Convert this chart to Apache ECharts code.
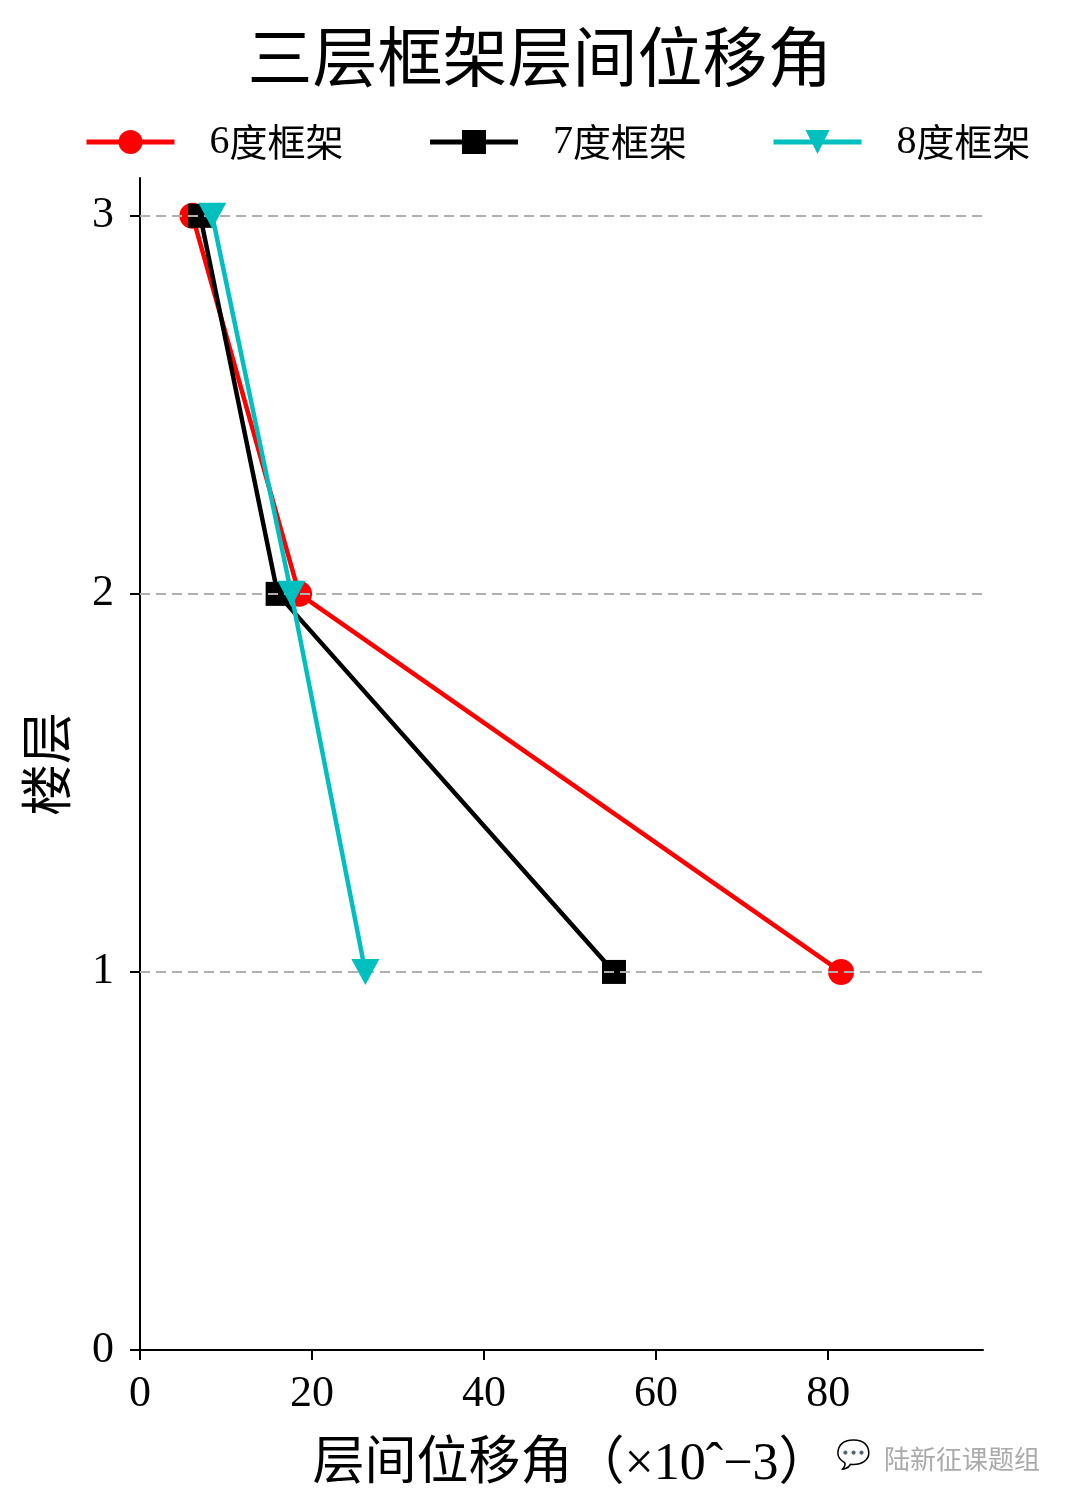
<!DOCTYPE html>
<html><head><meta charset="utf-8">
<script src="https://cdn.jsdelivr.net/npm/echarts@6/dist/echarts.min.js"></script>
<style>html,body{margin:0;padding:0;background:#fff}#c{width:1080px;height:1509px}</style>
</head><body><div id="c"></div>
<script>
const floors = [1, 2, 3];
const drift6 = [81.5, 18.5, 6.1];
const drift7 = [55.1, 16.0, 7.0];
const drift8 = [26.2, 17.6, 8.4];
const seriesNames = ['6度框架', '7度框架', '8度框架'];
const xTicks = [0, 20, 40, 60, 80];
const yTicks = [0, 1, 2, 3];
const FONT = "Liberation Serif, Noto Sans CJK SC, serif";
const CJK = "Noto Sans CJK SC, sans-serif";
const chart = echarts.init(document.getElementById('c'));
function pts(arr){ return arr.map((v,i)=>[v, floors[i]]); }
const tri = 'path://M0,0 L10,0 L5,9 Z';
const colors = ['#ff0000', '#000000', '#00bfbf'];
chart.setOption({
  animation:false,
  backgroundColor:'#fff',
  title:{text:'三层框架层间位移角', left:'center', top:19,
    textStyle:{fontFamily:CJK, fontSize:65, fontWeight:'normal', color:'#000'}},
  legend:{top:122, left:84, padding:0, itemWidth:88, itemHeight:30, itemGap:84,
    lineStyle:{width:5},
    formatter:function(n){ return '{d|' + n.charAt(0) + '}{c|' + n.slice(1) + '}'; },
    textStyle:{fontSize:38, color:'#000',
      rich:{d:{fontFamily:'Liberation Serif', fontSize:40, color:'#000', padding:[0,0,0,30]},
            c:{fontFamily:CJK, fontSize:38, color:'#000'}}},
    data:seriesNames},
  grid:{left:140, right:97, top:178, bottom:159, containLabel:false, outerBoundsMode:'none'},
  xAxis:{type:'value', min:0, max:98,
    name:'层间位移角（×10ˆ−3）', nameLocation:'middle', nameGap:89,
    nameTextStyle:{fontFamily:FONT, fontSize:52, color:'#000', padding:[0,0,0,20]},
    axisLine:{show:true, onZero:false, lineStyle:{color:'#000', width:2}},
    axisTick:{show:true, length:10, inside:false, customValues:xTicks, lineStyle:{color:'#000', width:2}},
    axisLabel:{customValues:xTicks, fontFamily:FONT, fontSize:44, color:'#000', margin:22},
    splitLine:{show:false}},
  yAxis:{type:'value', min:0, max:3.1,
    name:'楼层', nameLocation:'middle', nameGap:62, nameRotate:90,
    nameTextStyle:{fontFamily:FONT, fontSize:52, color:'#000'},
    axisLine:{show:true, onZero:false, lineStyle:{color:'#000', width:2}},
    axisTick:{show:true, length:10, customValues:yTicks, lineStyle:{color:'#000', width:2}},
    axisLabel:{customValues:yTicks, fontFamily:FONT, fontSize:44, color:'#000', margin:26},
    splitLine:{show:false}},
  series:[
    {name:seriesNames[0], type:'line', data:pts(drift6), symbol:'circle', symbolSize:26,
     lineStyle:{color:colors[0], width:4.5}, itemStyle:{color:colors[0]}, z:3,
     markLine:{silent:true, symbol:'none', label:{show:false},
       lineStyle:{color:'#b0b0b0', type:[10,6], width:2},
       data:floors.map(f=>({yAxis:f}))}},
    {name:seriesNames[1], type:'line', data:pts(drift7), symbol:'rect', symbolSize:24,
     lineStyle:{color:colors[1], width:4.5}, itemStyle:{color:colors[1]}, z:4},
    {name:seriesNames[2], type:'line', data:pts(drift8), symbol:tri, symbolSize:[28,26],
     lineStyle:{color:colors[2], width:4.5}, itemStyle:{color:colors[2]}, z:5}
  ],
  graphic:[{type:'text', left:884, top:1446,
    style:{text:'陆新征课题组', fontFamily:CJK, fontSize:26, fill:'#aaaaaa'}},
    {type:'text', left:836, top:1442,
    style:{text:'💬', fontSize:28, fill:'#bbbbbb'}}]
});
</script></body></html>
